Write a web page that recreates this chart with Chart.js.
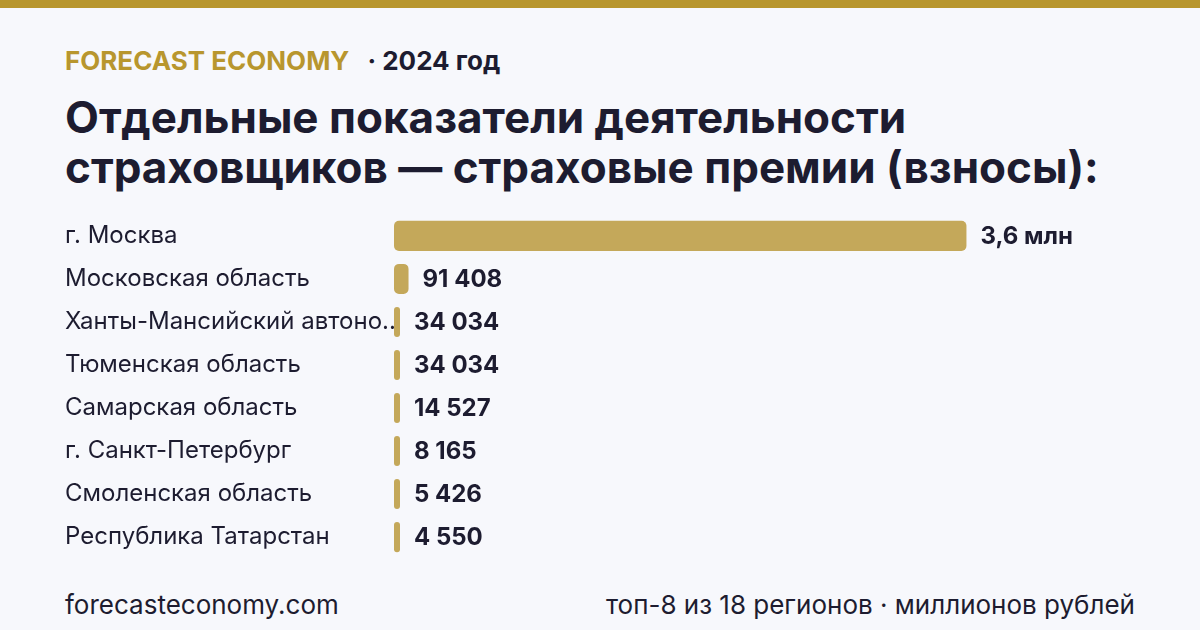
<!DOCTYPE html>
<html lang="ru">
<head>
<meta charset="utf-8">
<title>Страховые премии по регионам</title>
<script src="https://cdn.jsdelivr.net/npm/chart.js@4.4.1/dist/chart.umd.min.js"></script>
<style>
    html, body {
        margin: 0;
        padding: 0;
    }
    body {
        width: 1200px;
        height: 630px;
        overflow: hidden;
        position: relative;
        background: #f7f8fc;
        font-family: Inter, "Noto Sans", sans-serif;
        color: #1d1c30;
    }
    .top-bar {
        position: absolute;
        left: 0; top: 0;
        width: 1200px; height: 8px;
        background: #b8962e;
    }
    .kicker {
        position: absolute;
        left: 65px; top: 45px;
        font-size: 26px;
        font-weight: 700;
        line-height: 32px;
        white-space: nowrap;
    }
    .kicker .brand { color: #b8962e; margin-right: 18px; }
    .kicker .year { color: #1d1c30; }
    h1 {
        position: absolute;
        left: 65px; top: 92px;
        margin: 0;
        font-size: 44px;
        font-weight: 700;
        line-height: 50px;
        white-space: nowrap;
    }
    .chart-box {
        position: absolute;
        left: 65px; top: 200px;
        width: 1070px; height: 373px;
    }
    .footer {
        position: absolute;
        top: 590px;
        font-size: 26px;
        line-height: 30px;
        white-space: nowrap;
    }
    .footer.left { left: 65px; }
    .footer.right { right: 65px; }
</style>
</head>
<body>
<div class="top-bar"></div>
<div class="kicker"><span class="brand">FORECAST ECONOMY</span><span class="year">· 2024 год</span></div>
<h1>Отдельные показатели деятельности<br>страховщиков — страховые премии (взносы):</h1>
<div class="chart-box"><canvas id="premiums-chart"></canvas></div>
<div class="footer left">forecasteconomy.com</div>
<div class="footer right">топ-8 из 18 регионов · миллионов рублей</div>

<script>
// --- Data ---
const regions = [
    "г. Москва",
    "Московская область",
    "Ханты-Мансийский автономный округ — Югра",
    "Тюменская область",
    "Самарская область",
    "г. Санкт-Петербург",
    "Смоленская область",
    "Республика Татарстан"
];
// страховые премии, млн руб. (Москва ~3,6 млн)
const premiums = [3600000, 91408, 34034, 34034, 14527, 8165, 5426, 4550];

const barColor = "#c4a85a";
const textColor = "#1d1c30";

// --- Helpers ---
function shortLabel(label) {
    return label.length > 24 ? label.slice(0, 23) + "..." : label;
}

function formatValue(v) {
    if (v >= 1000000) {
        return (v / 1000000).toFixed(1).replace(".", ",") + " млн";
    }
    return String(v).replace(/\B(?=(\d{3})+(?!\d))/g, " ");
}

// draws the value right after each bar
const valueLabels = {
    id: "valueLabels",
    afterDatasetsDraw(chart) {
        const ctx = chart.ctx;
        const meta = chart.getDatasetMeta(0);
        ctx.save();
        ctx.font = "700 24px Inter";
        ctx.fillStyle = textColor;
        ctx.textAlign = "left";
        ctx.textBaseline = "middle";
        meta.data.forEach((bar, i) => {
            ctx.fillText(formatValue(premiums[i]), bar.x + 14, bar.y + 1);
        });
        ctx.restore();
    }
};

new Chart(document.getElementById("premiums-chart"), {
    type: "bar",
    data: {
        labels: regions,
        datasets: [{
            data: premiums,
            backgroundColor: barColor,
            borderRadius: 5,
            borderSkipped: false,
            minBarLength: 6,
            barPercentage: 0.7,
            categoryPercentage: 1
        }]
    },
    options: {
        indexAxis: "y",
        responsive: true,
        maintainAspectRatio: false,
        animation: false,
        layout: { padding: 0 },
        plugins: {
            legend: { display: false },
            tooltip: { enabled: false }
        },
        scales: {
            x: {
                display: false,
                min: 0,
                max: 4660000
            },
            y: {
                grid: { display: false },
                border: { display: false },
                afterFit(scale) { scale.width = 329; },
                ticks: {
                    crossAlign: "far",
                    padding: 0,
                    color: textColor,
                    font: { family: "Inter", size: 24 },
                    callback(value) {
                        return shortLabel(this.getLabelForValue(value));
                    }
                }
            }
        }
    },
    plugins: [valueLabels]
});
</script>
</body>
</html>
